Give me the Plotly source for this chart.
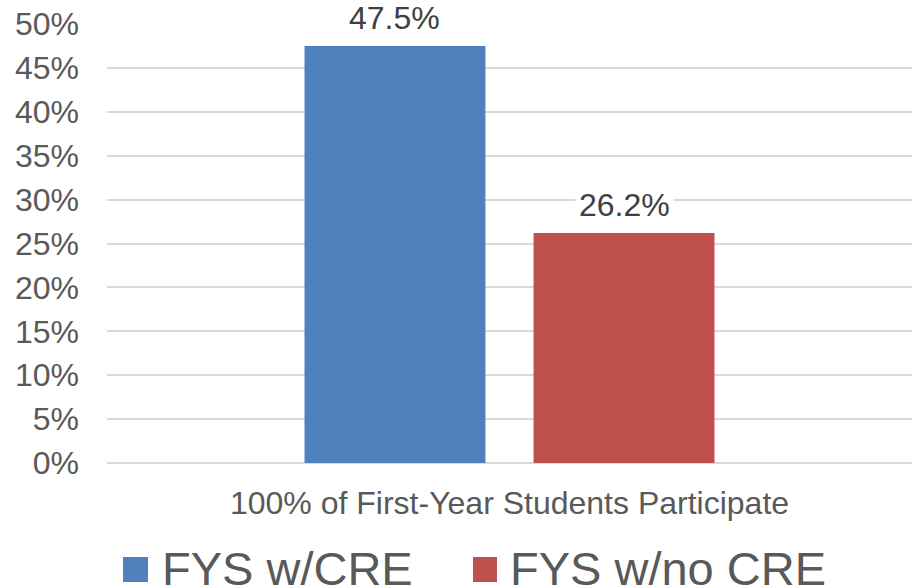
import plotly.graph_objects as go

categories = ["100% of First-Year Students Participate"]
series_names = ["FYS w/CRE", "FYS w/no CRE"]
series_values = [[0.475], [0.262]]
series_labels = ["47.5%", "26.2%"]
colors = ["#4F81BD", "#C0504D"]
y_tickvals = [0, 0.05, 0.10, 0.15, 0.20, 0.25, 0.30, 0.35, 0.40, 0.45, 0.50]
y_ticktext = ["0%", "5%", "10%", "15%", "20%", "25%", "30%", "35%", "40%", "45%", "50%"]

FONT = "Liberation Sans, Arial, sans-serif"
TXT = "#595959"
BARGAP = 0.431
BARGROUPGAP = 0.21

fig = go.Figure()
for name, vals, col in zip(series_names, series_values, colors):
    fig.add_trace(go.Bar(x=categories, y=vals, name=name, marker_color=col,
                         marker_line_width=0, showlegend=False))

# data labels with white background
slot = (1 - BARGAP) / len(series_names)
annotations = []
for i, (vals, labs) in enumerate(zip(series_values, series_labels)):
    off = -(1 - BARGAP) / 2 + slot * (i + 0.5)
    annotations.append(dict(x=off, y=vals[0], xref="x", yref="y", text=labs,
                            showarrow=False, yanchor="middle", yshift=28,
                            font=dict(family=FONT, size=32, color="#404040"),
                            bgcolor="white", borderpad=3))

# manual legend
W_PLOT = 805.0
H_PLOT = 439.0
leg_sq = [(123, 148), (473, 497)]
leg_txt_x = [160, 508]
shapes = []
for (x0, x1), tx, name, col in zip(leg_sq, leg_txt_x, series_names, colors):
    shapes.append(dict(type="rect", xref="paper", yref="paper",
                       x0=(x0 - 107) / W_PLOT, x1=(x1 - 107) / W_PLOT,
                       y0=(463 - 557) / H_PLOT, y1=(463 - 582) / H_PLOT,
                       fillcolor=col, line_width=0))
    annotations.append(dict(x=(tx - 107) / W_PLOT, y=(463 - 568) / H_PLOT,
                            xref="paper", yref="paper", text=name, showarrow=False,
                            xanchor="left", yanchor="middle",
                            font=dict(family=FONT, size=47, color=TXT)))

fig.update_layout(
    width=913, height=587,
    margin=dict(l=107, r=1, t=24, b=124, autoexpand=False),
    paper_bgcolor="white", plot_bgcolor="white",
    barmode="group", bargap=BARGAP, bargroupgap=BARGROUPGAP,
    font=dict(family=FONT, size=32, color=TXT),
    annotations=annotations, shapes=shapes,
    xaxis=dict(showgrid=False, showline=False, ticks="", ticklabelstandoff=18,
               automargin=False,
               tickfont=dict(size=32, color=TXT, family=FONT), range=[-0.5, 0.5]),
    yaxis=dict(range=[0, 0.5], tickvals=y_tickvals, ticktext=y_ticktext,
               automargin=False,
               showgrid=True, gridcolor="#D9D9D9", gridwidth=1.5,
               zeroline=True, zerolinecolor="#D9D9D9", zerolinewidth=2,
               showline=False, ticks="", ticklabelstandoff=27,
               tickfont=dict(size=32, color=TXT, family=FONT)),
)

fig.write_html("out.html", config={"displayModeBar": False},
               post_script="document.body.style.margin='0';document.body.style.overflow='hidden';")
